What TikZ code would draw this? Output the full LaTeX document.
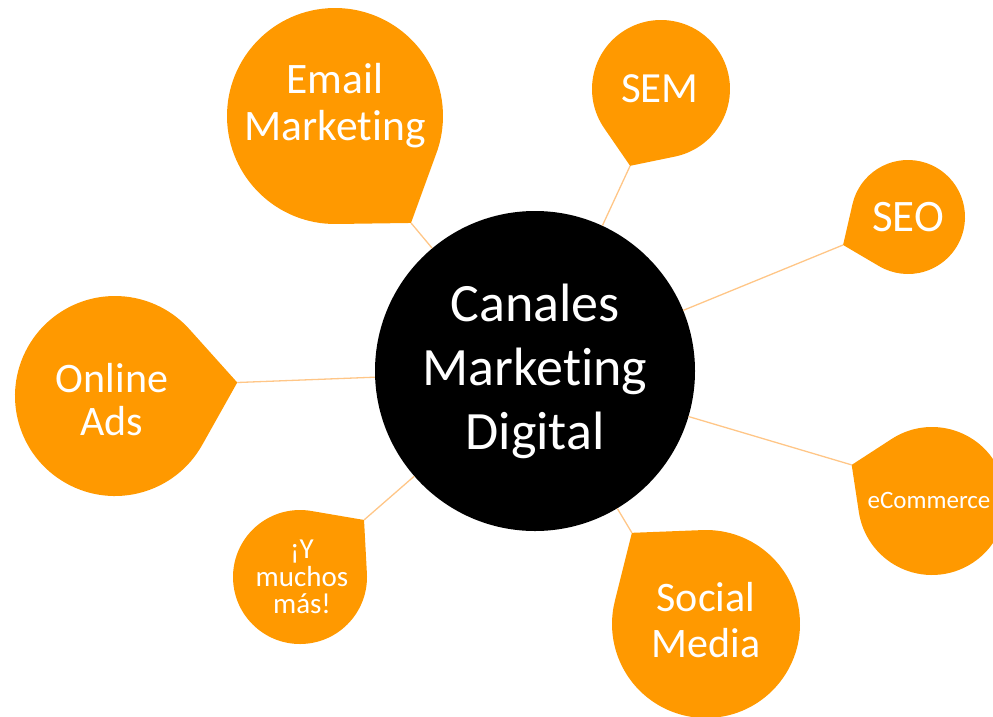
\documentclass[tikz,border=0pt]{standalone}
\usepackage{fontspec}
\setmainfont{Carlito}[Ligatures={NoCommon,NoContextual}]
\usetikzlibrary{calc}
\definecolor{dropor}{RGB}{255,153,0}
\definecolor{linkor}{RGB}{255,198,135}

% #1 name, #2 cx, #3 cy, #4 radius, #5 tip angle, #6 tip distance / radius
\newcommand{\drawdrop}[6]{%
  \pgfmathsetmacro{\dropd}{#4*#6}%
  \pgfmathsetmacro{\dropb}{acos(1/#6)}%
  \pgfmathsetmacro{\dropsa}{#5+\dropb}%
  \pgfmathsetmacro{\dropea}{#5-\dropb+360}%
  \coordinate (#1c) at (#2,#3);
  \coordinate (#1tip) at ($(#1c)+(#5:\dropd)$);
  \fill[dropor] (#1tip) -- ($(#1c)+(\dropsa:#4)$)
    arc[start angle=\dropsa, end angle=\dropea, radius=#4] -- cycle;
}

\begin{document}
\begin{tikzpicture}[x=1pt, y=-1pt,
  lbl/.style={text=white, align=center, inner sep=0pt},
  hubnode/.style={circle, fill=black, minimum size=320pt, inner sep=0pt,
    text=white, align=center, font=\fontsize{54}{64}\selectfont},
  conn/.style={draw=linkor, line width=1.3pt}]
\useasboundingbox (0,0) rectangle (993,716);

\drawdrop{email}{335}{116}{108}{54.6}{1.215}
\drawdrop{sem}{661}{89}{69}{111.9}{1.2}
\drawdrop{seo}{908}{217}{57}{156.7}{1.24}
\drawdrop{ecom}{932}{501}{74}{204.2}{1.19}
\drawdrop{social}{706}{624}{94}{230.9}{1.25}
\drawdrop{more}{300}{577}{67}{-41.7}{1.28}
\drawdrop{online}{115}{396}{100}{-6.3}{1.23}

\node[hubnode] (hub) at (535,371) {Canales\\Marketing\\Digital};

\draw[conn] (emailtip) -- (hub);
\draw[conn] (semtip) -- (hub);
\draw[conn] (seotip) -- (hub);
\draw[conn] (ecomtip) -- (hub);
\draw[conn] (socialtip) -- (hub);
\draw[conn] (moretip) -- (hub);
\draw[conn] (onlinetip) -- (hub);

\node[lbl, font=\fontsize{43.5}{47}\selectfont] (emailtxt) at (335,106) {Email\\Marketing};
\node[lbl, font=\fontsize{43}{47}\selectfont] (semtxt) at (660,89) {SEM};
\node[lbl, font=\fontsize{45}{47}\selectfont] (seotxt) at (908,217) {SEO};
\node[lbl, font=\fontsize{25}{28}\selectfont] (ecomtxt) at (929,500) {eCommerce};
\node[lbl, font=\fontsize{42}{46}\selectfont] (socialtxt) at (706,620) {Social\\Media};
\node[lbl, font=\fontsize{29}{27.5}\selectfont] (moretxt) at (302,577) {¡Y\\muchos\\más!};
\node[lbl, font=\fontsize{42}{43}\selectfont] (onlinetxt) at (112,400) {Online\\Ads};
\end{tikzpicture}
\end{document}
